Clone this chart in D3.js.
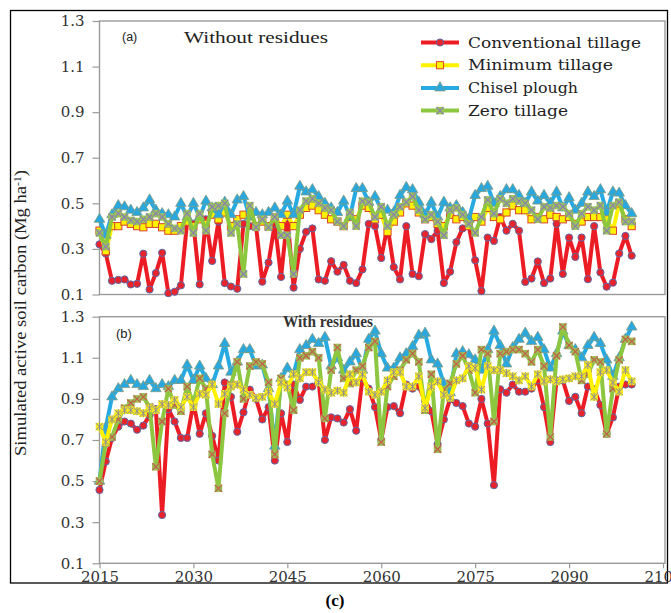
<!DOCTYPE html>
<html>
<head>
<meta charset="utf-8">
<script src="https://cdn.jsdelivr.net/npm/d3@7"></script>
<style>
  body { margin: 0; background: #fff; }
  svg { display: block; }
</style>
</head>
<body>
<svg width="671" height="613"></svg>
<script>
"use strict";

// years 2015..2100, one value per year
const years = d3.range(2015, 2101);
const xTicks = [2015, 2030, 2045, 2060, 2075, 2090, 2105];
const yTicks = [0.1, 0.3, 0.5, 0.7, 0.9, 1.1, 1.3];
const seriesNames = ["Conventional tillage", "Minimum tillage", "Chisel plough", "Zero tillage"];

// (a) without residues
const convA = [0.32,0.28,0.16,0.164,0.166,0.144,0.147,0.279,0.122,0.194,
  0.283,0.106,0.112,0.14,0.42,0.41,0.144,0.43,0.247,0.42,
  0.15,0.135,0.125,0.41,0.40,0.40,0.156,0.24,0.41,0.177,
  0.44,0.13,0.30,0.375,0.39,0.166,0.16,0.246,0.20,0.23,
  0.16,0.15,0.21,0.41,0.40,0.26,0.40,0.22,0.166,0.40,
  0.19,0.18,0.365,0.343,0.38,0.15,0.20,0.33,0.39,0.40,
  0.25,0.115,0.35,0.335,0.44,0.38,0.41,0.38,0.155,0.17,
  0.245,0.15,0.17,0.41,0.19,0.35,0.265,0.35,0.167,0.40,
  0.197,0.134,0.152,0.28,0.357,0.27];
const minA = [0.38,0.29,0.40,0.40,0.42,0.41,0.40,0.395,0.41,0.41,
  0.395,0.38,0.38,0.40,0.42,0.40,0.43,0.41,0.45,0.43,
  0.46,0.40,0.43,0.45,0.46,0.40,0.42,0.40,0.44,0.40,
  0.45,0.40,0.45,0.48,0.49,0.47,0.45,0.43,0.42,0.40,
  0.44,0.43,0.49,0.48,0.43,0.45,0.375,0.42,0.46,0.50,
  0.49,0.46,0.43,0.44,0.41,0.40,0.45,0.43,0.44,0.40,
  0.44,0.42,0.48,0.44,0.43,0.46,0.49,0.47,0.47,0.43,
  0.44,0.43,0.45,0.44,0.43,0.44,0.41,0.42,0.44,0.44,
  0.44,0.43,0.38,0.50,0.43,0.40];
const chiselA = [0.43,0.36,0.45,0.49,0.485,0.47,0.46,0.48,0.515,0.47,
  0.455,0.45,0.44,0.50,0.44,0.50,0.44,0.51,0.48,0.45,
  0.505,0.45,0.515,0.53,0.44,0.46,0.45,0.46,0.48,0.45,
  0.51,0.45,0.575,0.55,0.56,0.53,0.50,0.48,0.46,0.51,
  0.44,0.565,0.565,0.505,0.53,0.475,0.47,0.46,0.535,0.57,
  0.56,0.505,0.45,0.505,0.44,0.505,0.48,0.49,0.46,0.43,
  0.535,0.565,0.575,0.50,0.53,0.56,0.56,0.535,0.50,0.55,
  0.51,0.535,0.50,0.55,0.48,0.525,0.47,0.50,0.55,0.53,
  0.56,0.46,0.55,0.545,0.49,0.455];
const zeroA = [0.37,0.31,0.44,0.455,0.44,0.425,0.42,0.43,0.44,0.455,
  0.44,0.41,0.39,0.38,0.455,0.37,0.455,0.38,0.485,0.49,
  0.50,0.37,0.41,0.19,0.49,0.395,0.43,0.395,0.44,0.36,
  0.36,0.19,0.47,0.51,0.52,0.50,0.48,0.47,0.42,0.40,
  0.46,0.40,0.51,0.505,0.44,0.485,0.40,0.45,0.485,0.505,
  0.53,0.47,0.43,0.45,0.42,0.36,0.47,0.48,0.45,0.41,
  0.37,0.44,0.515,0.455,0.52,0.50,0.52,0.51,0.50,0.47,
  0.43,0.485,0.48,0.49,0.485,0.455,0.40,0.455,0.485,0.47,
  0.49,0.38,0.49,0.505,0.42,0.42];

// (b) with residues
const convB = [0.457,0.595,0.71,0.765,0.79,0.78,0.75,0.77,0.82,0.85,
  0.335,0.85,0.79,0.71,0.71,0.88,0.73,0.83,0.72,0.60,
  0.98,0.91,0.74,0.835,0.945,0.90,0.80,0.86,0.60,0.83,
  0.69,0.97,0.895,0.96,0.96,0.985,0.70,0.81,0.805,0.785,
  0.85,0.745,1.0,0.95,0.86,0.70,0.86,0.865,0.83,0.97,
  0.95,0.96,0.89,0.84,0.68,0.80,0.90,0.88,0.865,0.78,
  0.765,0.90,0.78,0.48,0.947,0.93,0.97,0.935,0.935,0.95,
  0.99,0.86,0.69,0.99,0.99,0.89,0.91,0.83,0.96,0.947,
  0.87,0.73,0.81,0.96,0.97,0.97];
const minB = [0.765,0.69,0.80,0.83,0.845,0.845,0.84,0.83,0.855,0.845,
  0.875,0.87,0.895,0.86,0.91,0.86,0.925,0.92,0.97,0.875,
  0.925,0.96,0.97,0.945,0.92,0.905,0.91,0.935,0.875,0.98,
  0.955,1.02,1.0,1.03,1.03,0.98,0.945,0.93,0.94,0.93,
  1.02,0.98,1.02,0.935,0.92,0.935,0.99,1.03,1.03,0.96,
  0.96,1.01,0.855,0.96,0.985,0.92,0.905,0.99,1.0,1.06,
  1.05,0.945,1.06,1.04,1.04,1.025,1.01,0.99,1.01,0.96,
  1.02,0.985,0.995,0.985,0.995,1.0,1.01,1.01,1.065,0.91,
  1.03,1.04,0.98,0.935,1.04,0.985];
const chiselB = [0.50,0.76,0.91,0.95,0.97,0.99,0.97,0.96,0.99,0.95,
  0.97,0.96,0.99,0.99,1.065,0.99,1.06,1.0,0.97,1.06,
  1.17,1.03,1.08,1.14,1.14,1.06,1.065,0.95,0.67,1.0,
  1.05,1.02,1.14,1.16,1.19,1.17,1.2,1.06,1.1,1.04,
  1.08,1.12,1.04,1.19,1.23,1.12,1.05,1.05,1.10,1.12,
  1.155,1.21,1.22,1.09,1.07,0.975,0.93,1.12,1.13,1.115,
  1.09,1.04,1.14,1.23,1.16,1.07,1.15,1.19,1.22,1.18,
  1.2,1.14,1.05,1.12,1.23,1.16,1.14,1.1,1.16,1.2,
  1.17,1.09,1.01,1.10,1.19,1.25];
const zeroB = [0.50,0.685,0.715,0.80,0.855,0.88,0.90,0.91,0.86,0.57,
  0.79,0.95,0.87,0.84,0.96,0.88,1.0,0.95,0.63,0.465,
  0.83,0.97,1.08,0.90,1.06,1.08,1.07,0.98,0.63,1.0,
  0.97,0.845,1.1,1.11,1.13,1.1,0.805,1.04,1.15,1.0,
  0.975,1.04,1.06,1.15,1.18,0.69,0.96,1.01,1.04,1.09,
  1.12,1.08,0.845,1.02,0.655,0.945,0.975,1.07,1.11,1.04,
  0.93,1.14,1.12,0.79,1.12,1.13,1.14,1.14,1.12,1.08,
  1.14,1.06,0.715,1.11,1.25,1.16,1.13,0.99,1.02,1.09,
  1.08,0.73,0.95,1.09,1.19,1.18];

const colors = { conv: "#ec1c24", min: "#fff200", chisel: "#27aae1", zero: "#8dc63f" };

const svg = d3.select("svg");
const x = d3.scaleLinear().domain([2015, 2105]).range([99.5, 663]);
const left = 99.5, right = 665;

// outer frame
svg.append("rect").attr("x", 10.5).attr("y", 10.5).attr("width", 657).attr("height", 572.5)
  .attr("fill", "none").attr("stroke", "#000").attr("stroke-width", 1.3);

// marker painters
function marker(g, kind) {
  if (kind === "circle") {
    g.append("circle").attr("r", 3.6).attr("fill", "#e8232b").attr("stroke", "#5c6aa8").attr("stroke-width", 1);
  } else if (kind === "squareA") {
    g.append("rect").attr("x", -3.6).attr("y", -3.6).attr("width", 7.2).attr("height", 7.2)
      .attr("fill", "#fff200").attr("stroke", "#d9452b").attr("stroke-width", 1);
  } else if (kind === "triangle") {
    g.append("path").attr("d", d3.symbol(d3.symbolTriangle, 48)())
      .attr("fill", "#29a8df").attr("stroke", "#7f9a82").attr("stroke-width", 0.8);
  } else if (kind === "crossA") {
    g.append("rect").attr("x", -3.8).attr("y", -3.8).attr("width", 7.6).attr("height", 7.6).attr("fill", "#9cc35a");
    g.append("path").attr("d", "M-3.5,-3.5L3.5,3.5M-3.5,3.5L3.5,-3.5").attr("stroke", "#8a7eb4").attr("stroke-width", 1.1);
  } else if (kind === "crossB") {
    g.append("rect").attr("x", -3.8).attr("y", -3.8).attr("width", 7.6).attr("height", 7.6).attr("fill", "#9dbb55");
    g.append("path").attr("d", "M-3.5,-3.5L3.5,3.5M-3.5,3.5L3.5,-3.5").attr("stroke", "#c45a4a").attr("stroke-width", 1.1);
  } else if (kind === "starB") {
    g.append("rect").attr("x", -3.8).attr("y", -3.8).attr("width", 7.6).attr("height", 7.6).attr("fill", "#f4e61c");
    g.append("path").attr("d", "M-3.5,-3.5L3.5,3.5M-3.5,3.5L3.5,-3.5M0,-4V4")
      .attr("stroke", "#8e8e96").attr("stroke-width", 1);
  }
}

function drawPanel(top, bottom, series) {
  const y = d3.scaleLinear().domain([0.1, 1.3]).range([bottom, top]);
  const g = svg.append("g");

  g.append("rect").attr("x", left).attr("y", top).attr("width", right - left).attr("height", bottom - top)
    .attr("fill", "none").attr("stroke", "#9a9a9a").attr("stroke-width", 1.4);

  const yAxis = g.append("g").attr("transform", `translate(${left},0)`)
    .call(d3.axisLeft(y).tickValues(yTicks).tickFormat(d3.format(".1f")).tickSize(7).tickPadding(8));
  yAxis.select(".domain").remove();
  yAxis.selectAll("line").attr("stroke", "#9a9a9a").attr("stroke-width", 1.2);
  yAxis.selectAll("text").attr("font-family", "DejaVu Serif").attr("font-size", 15).attr("fill", "#333");

  const line = d3.line().x((d, i) => x(years[i])).y(d => y(d));
  series.forEach(s => {
    g.append("path").datum(s.values).attr("d", line).attr("fill", "none")
      .attr("stroke", s.color).attr("stroke-width", 4).attr("stroke-linejoin", "round");
    g.append("g").selectAll("g").data(s.values).enter().append("g")
      .attr("transform", (d, i) => `translate(${x(years[i])},${y(d)})`)
      .each(function () { marker(d3.select(this), s.marker); });
  });
  return y;
}

// panel (a)
drawPanel(21, 294.5, [
  { values: convA, color: colors.conv, marker: "circle" },
  { values: minA, color: colors.min, marker: "squareA" },
  { values: chiselA, color: colors.chisel, marker: "triangle" },
  { values: zeroA, color: colors.zero, marker: "crossA" }
]);

// panel (b)
drawPanel(316.7, 563.3, [
  { values: convB, color: colors.conv, marker: "circle" },
  { values: chiselB, color: colors.chisel, marker: "triangle" },
  { values: zeroB, color: colors.zero, marker: "crossB" },
  { values: minB, color: colors.min, marker: "starB" }
]);

// x axis under panel (b)
const xAxis = svg.append("g").attr("transform", "translate(0,563.3)")
  .call(d3.axisBottom(x).tickValues(xTicks).tickFormat(d3.format("d")).tickSize(5).tickPadding(3));
xAxis.select(".domain").remove();
xAxis.selectAll("line").attr("stroke", "#9a9a9a").attr("stroke-width", 1.2);
xAxis.selectAll("text").attr("font-family", "DejaVu Serif").attr("font-size", 15).attr("fill", "#333");

// panel labels
svg.append("text").attr("x", 122).attr("y", 41).attr("font-family", "Liberation Sans").attr("font-size", 12.5)
  .attr("fill", "#222").text("(a)");
svg.append("text").attr("x", 184).attr("y", 43).attr("font-family", "Liberation Serif").attr("font-size", 16)
  .attr("textLength", 144).attr("lengthAdjust", "spacingAndGlyphs").attr("fill", "#222").text("Without residues");
svg.append("text").attr("x", 116).attr("y", 338).attr("font-family", "Liberation Sans").attr("font-size", 13)
  .attr("fill", "#222").text("(b)");
svg.append("text").attr("x", 283).attr("y", 327).attr("font-family", "Liberation Serif").attr("font-size", 16)
  .attr("font-weight", "bold").attr("textLength", 90).attr("lengthAdjust", "spacingAndGlyphs")
  .attr("fill", "#333").text("With residues");

// legend
const legendRows = [
  { name: seriesNames[0], color: colors.conv, marker: "circle", w: 173 },
  { name: seriesNames[1], color: colors.min, marker: "squareA", w: 145 },
  { name: seriesNames[2], color: colors.chisel, marker: "triangle", w: 110 },
  { name: seriesNames[3], color: colors.zero, marker: "crossA", w: 100 }
];
const legend = svg.append("g");
legendRows.forEach((r, i) => {
  const cy = 42.5 + i * 22.7;
  legend.append("line").attr("x1", 421).attr("x2", 459).attr("y1", cy).attr("y2", cy)
    .attr("stroke", r.color).attr("stroke-width", 4);
  marker(legend.append("g").attr("transform", `translate(440,${cy})`), r.marker);
  legend.append("text").attr("x", 468).attr("y", cy + 5).attr("font-family", "DejaVu Serif").attr("font-size", 15)
    .attr("textLength", r.w).attr("lengthAdjust", "spacingAndGlyphs").attr("fill", "#222").text(r.name);
});

// y axis title
const yt = svg.append("text").attr("transform", "translate(26,313) rotate(-90)").attr("text-anchor", "middle")
  .attr("font-family", "Liberation Serif").attr("font-size", 16).attr("fill", "#222")
  .attr("textLength", 286).attr("lengthAdjust", "spacingAndGlyphs");
yt.append("tspan").text("Simulated active soil carbon (Mg ha");
yt.append("tspan").attr("baseline-shift", "super").attr("font-size", 10).text("-1");
yt.append("tspan").text(")");

// figure caption
svg.append("text").attr("x", 335).attr("y", 606).attr("text-anchor", "middle").attr("font-family", "Liberation Serif")
  .attr("font-size", 17).attr("font-weight", "bold").attr("fill", "#000").text("(c)");
</script>
</body>
</html>
